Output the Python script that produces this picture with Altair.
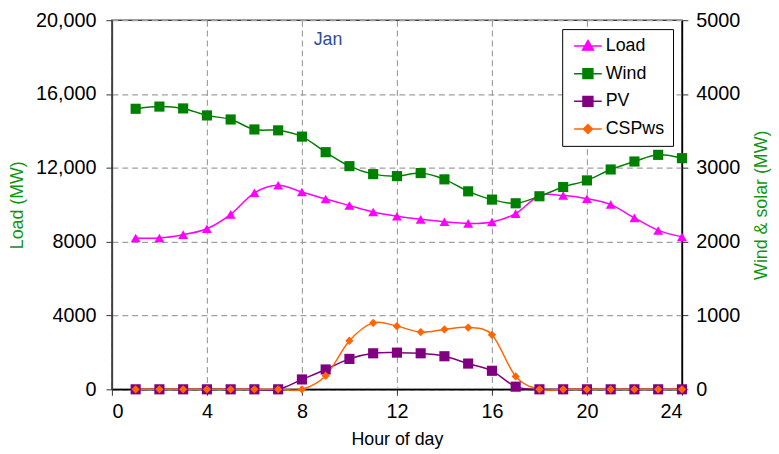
import altair as alt
import pandas as pd

FONT = "Liberation Sans"

hours = list(range(1, 25))
load = [8200, 8200, 8380, 8700, 9480, 10650, 11060, 10690, 10310, 9960, 9610, 9380,
        9210, 9080, 8990, 9070, 9520, 10490, 10500, 10330, 10010, 9290, 8610, 8260]
wind = [3800, 3830, 3805, 3710, 3655, 3520, 3508, 3423, 3212, 3023, 2915, 2888,
        2929, 2844, 2682, 2570, 2520, 2615, 2740, 2830, 2978, 3086, 3176, 3131]
pv = [0, 0, 0, 0, 0, 0, 0, 134, 269, 412, 488, 497,
      488, 448, 349, 251, 36, 0, 0, 0, 0, 0, 0, 0]
csp = [0, 0, 0, 0, 0, 0, 0, 0, 184, 658, 900, 856,
       775, 811, 837, 739, 175, 0, 0, 0, 0, 0, 0, 0]

series_names = ["Load", "Wind", "PV", "CSPws"]
series_colors = ["#FF00FF", "#008000", "#800080", "#FF6600"]
legend_paths = [
    "M-1,0H4.6M1.8,-1.1L2.9,0.85L0.7,0.85Z",
    "M-1,0H4.6M0.8,-1H2.8V1H0.8Z",
    "M-1,0H4.6M0.8,-1H2.8V1H0.8Z",
    "M-1,0H4.6M1.8,-0.9L2.7,0L1.8,0.9L0.9,0Z",
]

annot_text = ["Jan"]
annot_hour = [9.1]
annot_load = [18950]

df_load = pd.DataFrame({"hour": hours, "value": load})
df_wind = pd.DataFrame({"hour": hours, "value": wind})
df_pv = pd.DataFrame({"hour": hours, "value": pv})
df_csp = pd.DataFrame({"hour": hours, "value": csp})
df_annot = pd.DataFrame({"hour": annot_hour, "value": annot_load, "text": annot_text})

GRID = dict(grid=True, gridDash=[6, 4], gridColor="#a0a0a0", gridWidth=1.2)

x_axis = alt.Axis(values=list(range(0, 25, 4)), title="Hour of day", tickSize=6,
                  tickColor="#333333", domainColor="black", domainWidth=1.5,
                  labelPadding=6, titlePadding=10, **GRID)
x_enc = alt.X("hour:Q", scale=alt.Scale(domain=[0, 24], nice=False), axis=x_axis)

left_axis = alt.Axis(values=list(range(0, 20001, 4000)), title="Load (MW)",
                     titleColor="#129612", tickSize=6, tickColor="#333333",
                     domainColor="#404040", domainWidth=1.5, labelPadding=10,
                     titlePadding=9,
                     labelExpr="datum.value >= 10000 ? format(datum.value, ',') : format(datum.value, 'd')",
                     **GRID)
yL = alt.Y("value:Q", scale=alt.Scale(domain=[0, 20000], nice=False), axis=left_axis)

right_axis = alt.Axis(values=list(range(0, 5001, 1000)), title="Wind & solar (MW)",
                      orient="right", format="d", titleColor="#129612", tickSize=6,
                      tickColor="#333333", domainColor="black", domainWidth=1.5,
                      labelPadding=8, titlePadding=13, titleAngle=270,
                      titleBaseline="top", grid=False)
yR = alt.Y("value:Q", scale=alt.Scale(domain=[0, 5000], nice=False), axis=right_axis)


def series(df, y, color, shape, size):
    line = alt.Chart(df).mark_line(color=color, strokeWidth=1.5,
                                   interpolate="cardinal").encode(x=x_enc, y=y)
    pts = alt.Chart(df).mark_point(color=color, shape=shape, filled=True,
                                   size=size, opacity=1).encode(x=x_enc, y=y)
    return line, pts


l_line, l_pts = series(df_load, yL, series_colors[0], "triangle-up", 100)
w_line, w_pts = series(df_wind, yR, series_colors[1], "square", 105)
p_line, p_pts = series(df_pv, yR, series_colors[2], "square", 105)
c_line, c_pts = series(df_csp, yR, series_colors[3], "diamond", 70)

jan = alt.Chart(df_annot).mark_text(font=FONT, fontSize=18, color="#2E4C9C").encode(
    x=x_enc, y=yL, text="text:N")

left = alt.layer(l_line, l_pts, jan)
right = alt.layer(w_line, p_line, c_line, w_pts, p_pts, c_pts)

leg = alt.Legend(title=None, orient="none", legendX=455, legendY=9,
                 direction="vertical", labelFont=FONT, labelFontSize=18,
                 labelColor="black", symbolSize=100, symbolStrokeWidth=1.5,
                 symbolOpacity=1, strokeColor="black", fillColor="white",
                 padding=8, rowPadding=10, labelOffset=18)
dom = alt.Scale(domain=series_names, range=series_colors)
legend_layer = alt.Chart(alt.Data(values=[])).mark_point(opacity=1).encode(
    fill=alt.Fill("series:N", scale=dom, legend=leg),
    stroke=alt.Stroke("series:N", scale=dom, legend=leg),
    shape=alt.Shape("series:N", scale=alt.Scale(domain=series_names, range=legend_paths),
                    legend=leg),
)

chart = alt.layer(left, right, legend_layer).resolve_scale(y="independent").properties(
    width=771, height=443, background="white", padding=0,
    autosize=alt.AutoSizeParams(type="fit", contains="padding"),
).configure_view(stroke="#404040", strokeWidth=1.5).configure_axis(
    labelFont=FONT, titleFont=FONT, labelFontSize=20, titleFontSize=18,
    labelColor="black", titleFontWeight="normal"
)

chart.save("out.html", embed_options={"renderer": "svg", "actions": False})
